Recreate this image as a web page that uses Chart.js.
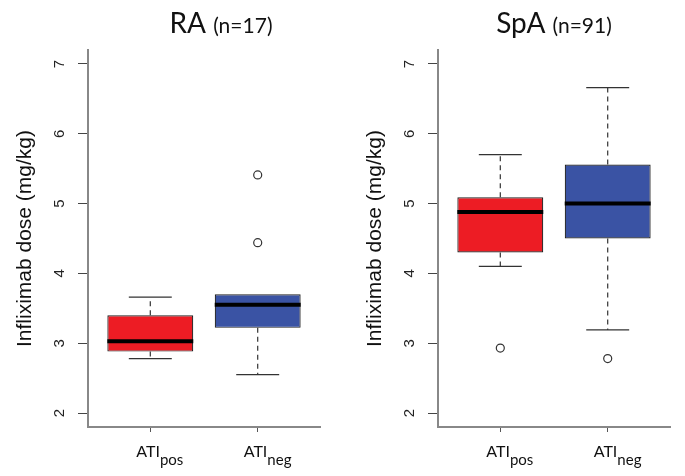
<!DOCTYPE html>
<html>
<head>
<meta charset="utf-8">
<script src="https://cdn.jsdelivr.net/npm/chart.js"></script>
<style>
  html, body { margin: 0; padding: 0; background: #fff; }
  #wrap { position: relative; width: 685px; height: 476px; }
  canvas { position: absolute; top: 0; }
  #ra { left: 0; }
  #spa { left: 350px; }
</style>
</head>
<body>
<div id="wrap">
  <canvas id="ra" width="350" height="476"></canvas>
  <canvas id="spa" width="335" height="476"></canvas>
</div>
<script>
// groups on the x axis (label + subscript)
const groupMain = ['ATI', 'ATI'];
const groupSub = ['pos', 'neg'];
const groupPos = [1, 2];
const yTicks = [2, 3, 4, 5, 6, 7];

// RA panel
const raTitle = ['RA', '(n=17)'];
const raQ1 = [2.88, 3.22];
const raMedian = [3.03, 3.55];
const raQ3 = [3.40, 3.70];
const raLow = [2.78, 2.55];
const raHigh = [3.66, 3.70];
const raOutliers = [[], [4.44, 5.41]];

// SpA panel
const spaTitle = ['SpA', '(n=91)'];
const spaQ1 = [4.30, 4.50];
const spaMedian = [4.88, 5.00];
const spaQ3 = [5.09, 5.56];
const spaLow = [4.10, 3.19];
const spaHigh = [5.70, 6.66];
const spaOutliers = [[2.93], [2.78]];

const boxColors = ['#ED1C24', '#3A53A4'];
const labelFont = 'Lato, "Open Sans", sans-serif';
const axisFont = '"Liberation Sans", Arial, sans-serif';

function makeChart(id, title, q1, med, q3, lo, hi, outliers, opts) {
  // whiskers, caps, medians, titles, rotated y labels and subscripted group labels
  const boxParts = {
    id: 'boxParts',
    afterDatasetsDraw(chart) {
      const ctx = chart.ctx;
      const xs = chart.scales.x, ys = chart.scales.y;
      ctx.save();
      groupPos.forEach((g, i) => {
        const xc = xs.getPixelForValue(g);
        const capL = xs.getPixelForValue(g - 0.2), capR = xs.getPixelForValue(g + 0.2);
        ctx.strokeStyle = '#333';
        ctx.lineWidth = 1.2;
        // dashed whiskers
        ctx.setLineDash([5, 4]);
        ctx.beginPath();
        ctx.moveTo(xc, ys.getPixelForValue(q3[i]));
        ctx.lineTo(xc, ys.getPixelForValue(hi[i]));
        ctx.moveTo(xc, ys.getPixelForValue(q1[i]));
        ctx.lineTo(xc, ys.getPixelForValue(lo[i]));
        ctx.stroke();
        // caps (skip when the whisker ends on the box edge)
        ctx.setLineDash([]);
        ctx.beginPath();
        if (hi[i] > q3[i]) {
          const y = ys.getPixelForValue(hi[i]);
          ctx.moveTo(capL, y);
          ctx.lineTo(capR, y);
        }
        if (lo[i] < q1[i]) {
          const y = ys.getPixelForValue(lo[i]);
          ctx.moveTo(capL, y);
          ctx.lineTo(capR, y);
        }
        ctx.stroke();
        // median
        ctx.strokeStyle = '#000';
        ctx.lineWidth = 4;
        ctx.beginPath();
        const ym = ys.getPixelForValue(med[i]);
        ctx.moveTo(xs.getPixelForValue(g - 0.4), ym);
        ctx.lineTo(xs.getPixelForValue(g + 0.4), ym);
        ctx.stroke();
      });
      ctx.restore();
    },
    afterDraw(chart) {
      const ctx = chart.ctx;
      const xs = chart.scales.x, ys = chart.scales.y;
      const area = chart.chartArea;
      ctx.save();
      // y tick labels, turned like R's default axis
      ctx.fillStyle = '#222';
      ctx.font = '15px ' + axisFont;
      ctx.textAlign = 'center';
      ctx.textBaseline = 'middle';
      yTicks.forEach(v => {
        ctx.save();
        ctx.translate(area.left - 28, ys.getPixelForValue(v));
        ctx.rotate(-Math.PI / 2);
        ctx.fillText(String(v), 0, 0);
        ctx.restore();
      });
      ctx.fillStyle = '#111';
      ctx.textBaseline = 'alphabetic';
      ctx.textAlign = 'left';
      // panel title: big name + smaller n
      ctx.font = '28px ' + labelFont;
      const w1 = ctx.measureText(title[0] + ' ').width;
      ctx.font = '21px ' + labelFont;
      const w2 = ctx.measureText(title[1]).width;
      const tx = (area.left + area.right) / 2 + opts.titleShift - (w1 + w2) / 2;
      ctx.font = '28px ' + labelFont;
      ctx.fillText(title[0], tx, 33);
      ctx.font = '21px ' + labelFont;
      ctx.fillText(title[1], tx + w1, 33);
      // x labels with subscripts
      groupPos.forEach((g, i) => {
        const x0 = xs.getPixelForValue(g) - 14;
        ctx.font = '16px ' + labelFont;
        ctx.fillText(groupMain[i], x0, 457);
        const wm = ctx.measureText(groupMain[i]).width;
        ctx.font = '15px ' + labelFont;
        ctx.fillText(groupSub[i], x0 + wm, 465);
      });
      ctx.restore();
    }
  };

  const outlierPts = [];
  outliers.forEach((arr, i) => arr.forEach(v => outlierPts.push({ x: groupPos[i], y: v })));

  return new Chart(document.getElementById(id), {
    type: 'bar',
    data: {
      datasets: [
        {
          data: groupPos.map((g, i) => ({ x: g, y: [q1[i], q3[i]] })),
          backgroundColor: boxColors,
          borderColor: '#222',
          borderWidth: 1.2,
          borderSkipped: false,
          categoryPercentage: 1,
          barPercentage: 0.8
        },
        {
          type: 'scatter',
          data: outlierPts,
          pointRadius: 4,
          pointBorderWidth: 1.2,
          borderColor: '#333',
          backgroundColor: 'rgba(0,0,0,0)'
        }
      ]
    },
    options: {
      responsive: false,
      animation: false,
      layout: { padding: { left: 0, right: opts.padRight, top: 50, bottom: 0 } },
      plugins: { legend: { display: false }, tooltip: { enabled: false } },
      scales: {
        x: {
          type: 'linear',
          min: 0.42,
          max: 2.58,
          offset: false,
          afterBuildTicks: s => { s.ticks = groupPos.map(v => ({ value: v })); },
          afterFit: s => { s.height = 49; },
          grid: { drawOnChartArea: false, drawTicks: true, tickLength: 5, color: '#555', offset: false },
          border: { display: true, color: '#888', width: 2 },
          ticks: { display: false }
        },
        y: {
          min: 1.8,
          max: 7.2,
          afterBuildTicks: s => { s.ticks = yTicks.map(v => ({ value: v })); },
          afterFit: s => { s.width = 88; },
          grid: { drawOnChartArea: false, drawTicks: true, tickLength: 10, color: '#444' },
          border: { display: true, color: '#888', width: 2 },
          ticks: { display: false },
          title: {
            display: true,
            text: 'Infliximab dose (mg/kg)',
            color: '#111',
            font: { family: axisFont, size: 21 },
            padding: { top: 13, bottom: 0 }
          }
        }
      }
    },
    plugins: [boxParts]
  });
}

makeChart('ra', raTitle, raQ1, raMedian, raQ3, raLow, raHigh, raOutliers, { padRight: 30, titleShift: 17 });
makeChart('spa', spaTitle, spaQ1, spaMedian, spaQ3, spaLow, spaHigh, spaOutliers, { padRight: 15, titleShift: 0 });
</script>
</body>
</html>
